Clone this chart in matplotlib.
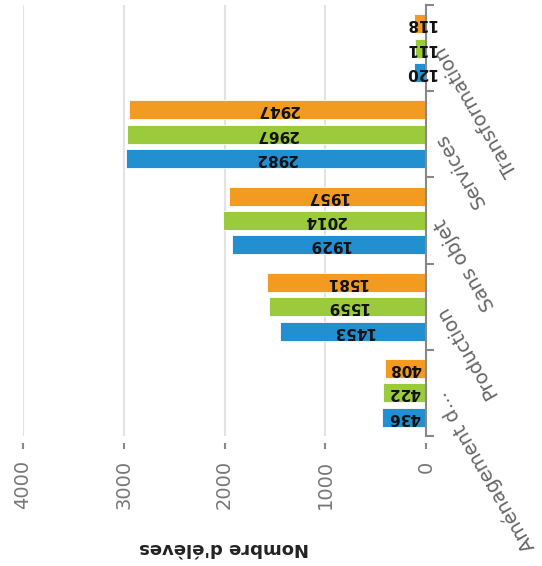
import matplotlib.pyplot as plt
import matplotlib.transforms as mtransforms
import numpy as np

# chart is drawn upside down (rotated 180 degrees), like the reference
categories = ['Aménagement d...', 'Production', 'Sans objet', 'Services', 'Transformation']
serie_bleu = [436, 1453, 1929, 2982, 120]
serie_vert = [422, 1559, 2014, 2967, 111]
serie_orange = [408, 1581, 1957, 2947, 118]
x_ticks = [0, 1000, 2000, 3000, 4000]
x_title = "Nombre d'élèves"

colors = ['#218fd0', '#9bcb3c', '#f39b20']
series = [serie_bleu, serie_vert, serie_orange]
offsets = [-0.283, 0.0, 0.283]

W, H = 542, 566
fig = plt.figure(figsize=(W / 100, H / 100), dpi=100)
left, right, top, bottom = 23, 426, 5, 436
ax = fig.add_axes([left / W, 1 - bottom / H, (right - left) / W, (bottom - top) / H])

# spine position first: set_position resets the ticks
ax.spines['bottom'].set_position(('outward', 5))
for s in ['top', 'left', 'bottom']:
    ax.spines[s].set_visible(False)
ax.spines['right'].set_color('#888888')
ax.spines['right'].set_linewidth(1.5)

y = np.arange(len(categories))
for vals, col, off in zip(series, colors, offsets):
    ax.barh(y + off, vals, height=0.22, color=col, edgecolor='white', linewidth=0.6, zorder=2)
    for yi, v in zip(y, vals):
        ax.text(v / 2, yi + off, str(v), rotation=180, ha='center', va='center',
                fontsize=11, fontweight='bold', color='#111111', zorder=3)

ax.set_xlim(4000, 0)
ax.set_ylim(-0.5, len(categories) - 0.5)

# x axis (values)
ax.set_xticks(x_ticks)
ax.set_xticklabels([str(t) for t in x_ticks])
ax.tick_params(axis='x', length=4.5, width=1.5, color='#888888', pad=8,
               labelrotation=90, labelcolor='#777777', labelsize=14)
ax.xaxis.grid(True, color='#e3e3e3', linewidth=1.5, zorder=0)
ax.set_axisbelow(True)

# y axis (categories) on the right, ticks at group boundaries
ax.yaxis.tick_right()
ax.set_yticks(np.arange(-0.5, len(categories), 1.0))
ax.set_yticklabels([])
ax.tick_params(axis='y', length=6, width=1.5, color='#888888')

lab_tr = mtransforms.offset_copy(ax.get_yaxis_transform(), fig=fig, x=14, y=0, units='dots')
for yi, cat in zip(y, categories):
    ax.text(1.0, yi, cat, transform=lab_tr, rotation=120, rotation_mode='anchor',
            ha='right', va='center', fontsize=14, color='#666666', clip_on=False)

fig.text((left + right) / 2 / W, 1 - 548 / H, x_title, rotation=180, ha='center', va='center',
         fontsize=13, fontweight='bold', color='#222222')

fig.savefig('out.png', dpi=100)
